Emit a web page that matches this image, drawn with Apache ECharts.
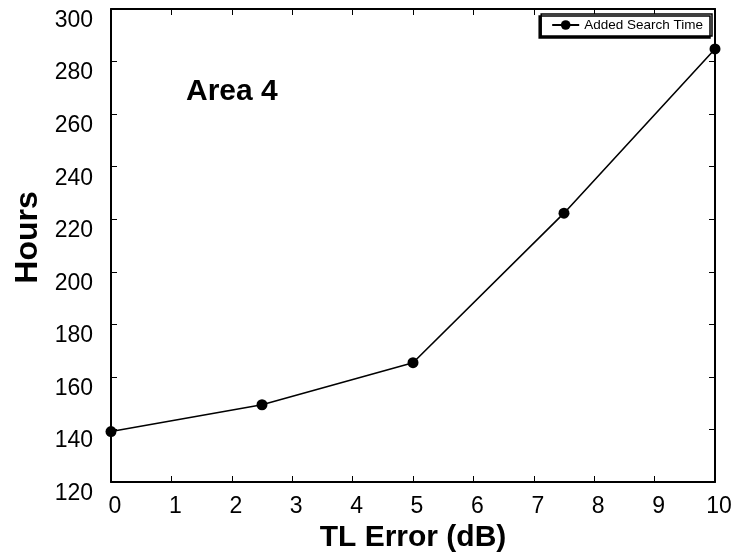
<!DOCTYPE html>
<html>
<head>
<meta charset="UTF-8">
<script src="https://cdn.jsdelivr.net/npm/echarts@6/dist/echarts.min.js"></script>
<style>
  html, body { margin: 0; padding: 0; background: #fff; }
  #chart { width: 746px; height: 552px; }
</style>
</head>
<body>
<div id="chart"></div>
<script>
  // data
  const tlError = [0, 2.5, 5, 7.5, 10];
  const hours = [139.2, 149.4, 165.4, 222.3, 284.8];
  const seriesName = "Added Search Time";

  const font = "Arial, 'Liberation Sans', sans-serif";
  const chart = echarts.init(document.getElementById("chart"));

  const baseAxis = {
    axisLine: { show: true, onZero: false, lineStyle: { color: "#000", width: 2 } },
    axisTick: { show: true, inside: true, length: 6, lineStyle: { color: "#000", width: 1 } },
    splitLine: { show: false }
  };

  chart.setOption({
    animation: false,
    backgroundColor: "#fff",
    grid: { left: 111, right: 31, top: 9, bottom: 70, outerBoundsMode: "none", containLabel: false },
    title: {
      text: "Area 4",
      left: 186, top: 77, padding: 0,
      textStyle: { fontFamily: font, fontSize: 30, fontWeight: "bold", color: "#000" }
    },
    legend: {
      right: 34, top: 14,
      data: [{ name: seriesName, itemStyle: { color: "#000" }, lineStyle: { width: 2 } }],
      itemWidth: 27, itemHeight: 12,
      itemGap: 4,
      padding: [4, 9, 4, 10],
      borderColor: "#000", borderWidth: 1.5, borderRadius: 0,
      shadowColor: "#000", shadowOffsetX: -2, shadowOffsetY: 2,
      backgroundColor: "#fff",
      textStyle: { fontFamily: font, fontSize: 13.5, color: "#000" }
    },
    xAxis: [
      Object.assign({}, baseAxis, {
        type: "value", min: 0, max: 10, interval: 1,
        name: "TL Error (dB)", nameLocation: "middle", nameGap: 38,
        nameTextStyle: { fontFamily: font, fontSize: 30, fontWeight: "bold", color: "#000" },
        axisLabel: { fontFamily: font, fontSize: 23, color: "#000", margin: 13, padding: [0, 0, 0, 8] }
      }),
      Object.assign({}, baseAxis, {
        type: "value", min: 0, max: 10, interval: 1, position: "top",
        axisLabel: { show: false }
      })
    ],
    yAxis: [
      Object.assign({}, baseAxis, {
        type: "value", min: 120, max: 300, interval: 20,
        name: "Hours", nameLocation: "middle", nameGap: 61,
        nameTextStyle: { fontFamily: font, fontSize: 32, fontWeight: "bold", color: "#000", padding: [0, 0, 0, 16] },
        axisLabel: { fontFamily: font, fontSize: 23, color: "#000", margin: 18, verticalAlign: "top", lineHeight: 23 }
      }),
      Object.assign({}, baseAxis, {
        type: "value", min: 120, max: 300, interval: 20, position: "right",
        axisLabel: { show: false }
      })
    ],
    series: [{
      name: seriesName,
      type: "line",
      data: tlError.map((x, i) => [x, hours[i]]),
      symbol: "circle",
      symbolSize: 11,
      clip: false,
      itemStyle: { color: "#000" },
      lineStyle: { color: "#000", width: 1.6 }
    }]
  });
</script>
</body>
</html>
